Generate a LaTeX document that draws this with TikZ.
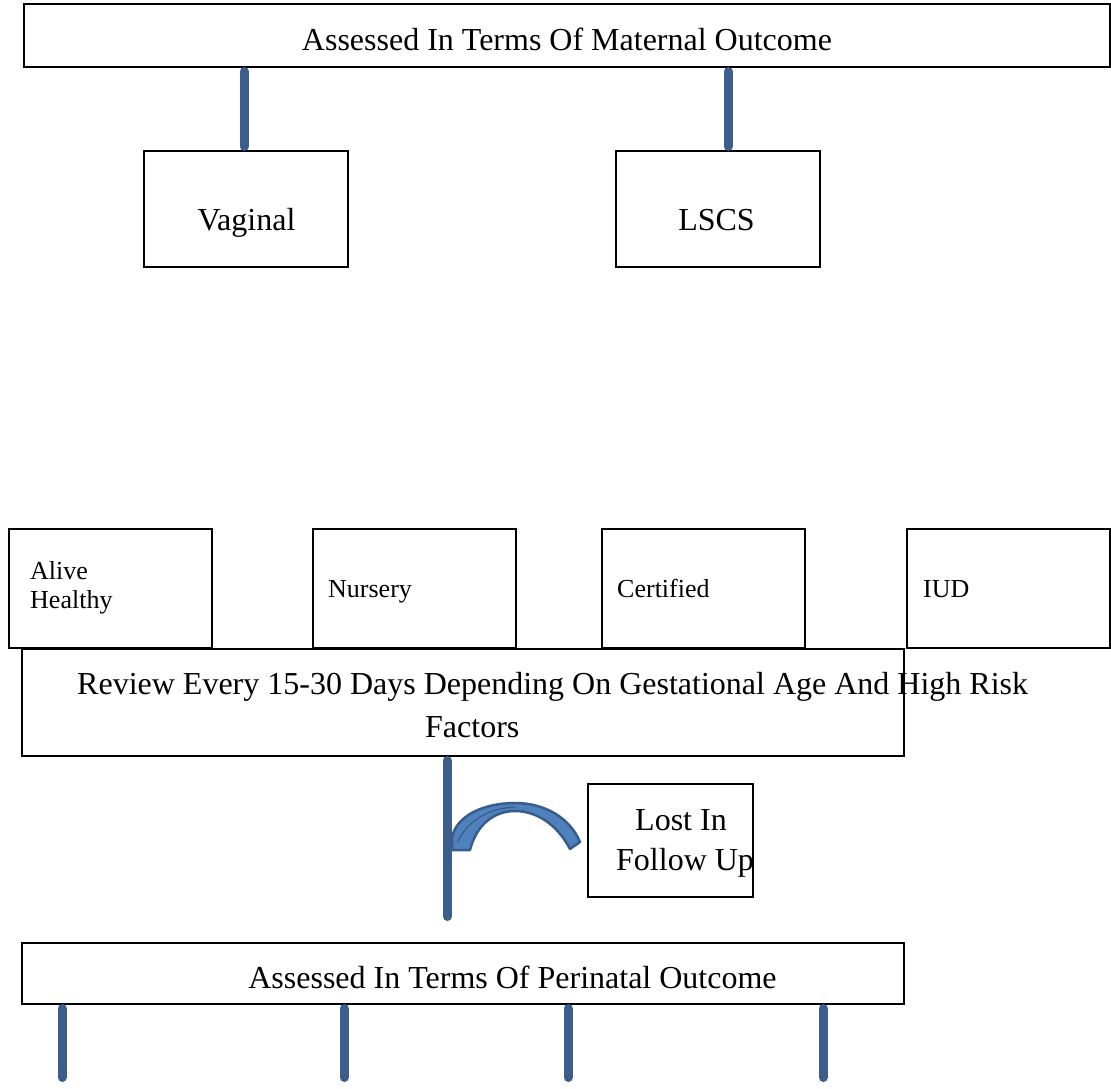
\documentclass[tikz,border=0pt]{standalone}
\usepackage{fontspec}
\setmainfont{Liberation Serif}
\definecolor{barblue}{HTML}{3B5E8C}
\definecolor{archfill}{HTML}{4F81BD}
\definecolor{archline}{HTML}{385D8A}
\begin{document}
\begin{tikzpicture}[x=1pt,y=-1pt,
  box/.style={draw=black, line width=1.5pt, rectangle, inner sep=0pt, outer sep=0pt, anchor=north west, fill=white},
  smallbox/.style={box, line width=2.2pt, minimum width=203pt, minimum height=119pt},
  bar/.style={draw=barblue, line width=9pt, line cap=round, shorten >=4.5pt, shorten <=4.5pt},
  big/.style={font=\fontsize{32}{43}\selectfont, inner sep=0pt},
  small/.style={font=\fontsize{26}{29}\selectfont, inner sep=0pt}]
\useasboundingbox (0,0) rectangle (1111,1088);
\fill[white] (0,0) rectangle (1111,1088);

% top part
\node[box, minimum width=1086pt, minimum height=63pt] (top) at (24,4) {};
\node[big, anchor=base] (toptext) at (567,50) {Assessed In Terms Of Maternal Outcome};
\node[box, minimum width=204pt, minimum height=116pt] (vag) at (144,151) {};
\node[big, anchor=base] (vagtext) at (246.5,230) {Vaginal};
\node[box, minimum width=204pt, minimum height=116pt] (lscs) at (616,151) {};
\node[big, anchor=base] (lscstext) at (716.5,230) {LSCS};

\draw[bar] ([xshift=-2pt]vag.north |- top.south) -- ([xshift=-2pt]vag.north);
\draw[bar] ([xshift=10pt]lscs.north |- top.south) -- ([xshift=10pt]lscs.north);

% outcome boxes
\node[smallbox] (alive) at (9,529) {};
\node[small, anchor=base west] (alivet1) at (30,579) {Alive};
\node[small, anchor=base west] (alivet2) at (30,608) {Healthy};
\node[smallbox] (nursery) at (313,529) {};
\node[small, anchor=base west] (nurseryt) at (328,597) {Nursery};
\node[smallbox] (cert) at (602,529) {};
\node[small, anchor=base west] (certt) at (617,597) {Certified};
\node[smallbox] (iud) at (907,529) {};
\node[small, anchor=base west] (iudt) at (923,597) {IUD};

% review box
\node[box, minimum width=882pt, minimum height=107pt] (review) at (22,649) {};
\node[big, anchor=base west] (revt1) at (77,694) {Review Every 15-30 Days Depending On Gestational Age And High Risk};
\node[big, anchor=base west] (revt2) at (425,737) {Factors};

% lost in follow up
\node[box, minimum width=165pt, minimum height=113pt] (lost) at (588,784) {};
\node[big, anchor=base west] (lostt1) at (635,830) {Lost In};
\node[big, anchor=base west] (lostt2) at (616,870) {Follow Up};

% main vertical connector
\coordinate (mainend) at (447,921);

% curved arch
\filldraw[fill=archfill, draw=archline, line width=2.5pt, line join=round]
  (452,850) -- (470,850)
  .. controls (476,826) and (493,811) .. (515,811)
  .. controls (538,811) and (558,826) .. (570,849)
  -- (580,842)
  .. controls (570,818) and (545,803) .. (515,803)
  .. controls (485,803) and (456,815) .. (452,838) -- cycle;
\draw[archline, line width=1.2pt] (458,842) .. controls (466,822) and (488,808) .. (515,807);
\draw[bar] (mainend |- review.south) -- (mainend);

% perinatal box
\node[box, minimum width=882pt, minimum height=61pt] (peri) at (22,943) {};
\node[big, anchor=base] (perit) at (512.5,988) {Assessed In Terms Of Perinatal Outcome};

\coordinate (e1) at (62,1082);
\coordinate (e2) at (344,1082);
\coordinate (e3) at (568,1082);
\coordinate (e4) at (823,1082);
\foreach \e in {e1,e2,e3,e4}
  \draw[bar] (\e |- peri.south) -- (\e);
\end{tikzpicture}
\end{document}
